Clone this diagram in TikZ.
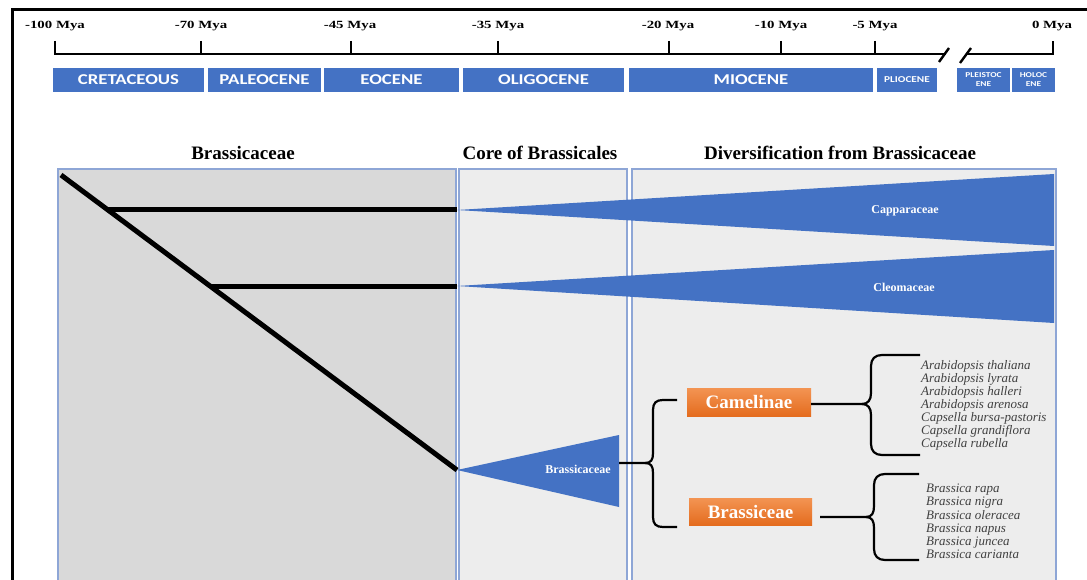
\documentclass[tikz,border=0pt]{standalone}
\usepackage{fontspec}
\setmainfont{Liberation Serif}
\newfontfamily\erafont[FakeStretch=1.25]{Carlito}
\newfontfamily\tlfont[FakeStretch=1.35]{Liberation Serif}
\definecolor{eraBlue}{HTML}{4472C4}
\definecolor{panelEdge}{HTML}{8EA6D6}
\definecolor{darkPanel}{HTML}{D9D9D9}
\definecolor{lightPanel}{HTML}{EDEDED}
\definecolor{tribeTop}{HTML}{F39453}
\definecolor{tribeBot}{HTML}{E46C1E}
\definecolor{speciesGray}{HTML}{404040}
\begin{document}
\begin{tikzpicture}[x=1pt, y=-1pt,
		era/.style={fill=eraBlue, text=white, inner sep=0pt, minimum height=24, font=\erafont\bfseries\fontsize{15}{15}\selectfont},
		smallera/.style={era, align=center, font=\erafont\bfseries\fontsize{7.5}{9}\selectfont},
		tick/.style={line width=2.4pt},
		mya/.style={font=\tlfont\bfseries\fontsize{11}{11}\selectfont, inner sep=0pt},
		header/.style={font=\bfseries\fontsize{19}{19}\selectfont, inner sep=0pt},
		panel/.style={draw=panelEdge, line width=1.2pt},
		stem/.style={line width=5pt},
		clade/.style={fill=eraBlue},
		cladelabel/.style={text=white, font=\bfseries\fontsize{12}{12}\selectfont, inner sep=0pt},
		tribe/.style={top color=tribeTop, bottom color=tribeBot, text=white, inner sep=0pt, font=\bfseries\fontsize{19}{19}\selectfont},
		brace/.style={line width=2.2pt},
		species/.style={text=speciesGray, align=left, inner sep=0pt, anchor=north west, font=\itshape\fontsize{13}{13.1}\selectfont}]
	\useasboundingbox (0, 0) rectangle (1087, 580);
	\fill[white] (0, 0) rectangle (1087, 580);
	\draw[line width=3pt] (12, 580) -- (12, 10) -- (1087, 10);
	% time scale
	\draw[tick] (55, 41) -- (55, 54) -- (946, 54);
	\draw[tick] (967, 54) -- (1053, 54) -- (1053, 41);
	\foreach \x in {201, 351, 498, 669, 781, 875}
		\draw[tick] (\x, 41) -- (\x, 54);
	\draw[tick] (939, 62) -- (949, 48);
	\draw[tick] (960, 63) -- (971, 48);
	\foreach \x/\t [count=\i] in {55/-100, 201/-70, 350/-45, 498/-35, 668/-20, 781/-10, 875/-5, 1052/0}
		\node (mya\i) at (\x, 26)[mya] {\t{} Mya};
	\foreach \a/\b/\t/\n in {53/204/CRETACEOUS/cret, 208/321/PALEOCENE/paleo, 324/459/EOCENE/eoc, 463/624/OLIGOCENE/olig, 629/873/MIOCENE/mioc}
		\node (\n) at ({(\a+\b)/2}, 80)[era, minimum width=\b-\a] {\t};
	\node (plio) at (907, 80)[era, minimum width=60, font=\erafont\bfseries\fontsize{9}{9}\selectfont] {PLIOCENE};
	\node (pleist) at (983.5, 80)[smallera, minimum width=53] {PLEISTOC\\ENE};
	\node (holo) at (1033.5, 80)[smallera, minimum width=43] {HOLOC\\ENE};
	% panels
	\filldraw[panel, fill=darkPanel] (58, 169) rectangle (456, 590);
	\filldraw[panel, fill=lightPanel] (459, 169) rectangle (627, 590);
	\filldraw[panel, fill=lightPanel] (632, 169) rectangle (1056, 590);
	\node (hBrass) at (243, 153)[header] {Brassicaceae};
	\node (hCore) at (540, 153)[header] {Core of Brassicales};
	\node (hDiv) at (840, 153)[header] {Diversification from Brassicaceae};
	% tree
	\coordinate (root) at (61, 175);
	\coordinate (split1) at (108, 210);
	\coordinate (split2) at (210, 286);
	\coordinate (tip) at (457, 470);
	\coordinate (capApex) at (457, 210);
	\coordinate (cleApex) at (457, 286);
	\fill[clade] (capApex) -- (1054, 174) -- (1054, 246) -- cycle;
	\fill[clade] (cleApex) -- (1054, 250) -- (1054, 323) -- cycle;
	\fill[clade] (tip) -- (619, 435) -- (619, 507) -- cycle;
	\draw[stem] (root) -- (tip);
	\draw[stem] (split1) -- (capApex);
	\draw[stem] (split2) -- (cleApex);
	\node (capLab) at (905, 211)[cladelabel] {Capparaceae};
	\node (cleLab) at (904, 287)[cladelabel] {Cleomaceae};
	\node (brLab) at (578, 469)[cladelabel] {Brassicaceae};
	% tribes
	\node (camel) at (749, 402)[tribe, minimum width=124, minimum height=28] {Camelinae};
	\node (brass) at (750.5, 511.5)[tribe, minimum width=123, minimum height=27] {Brassiceae};
	\coordinate (brOut) at (619, 463);
	\coordinate (camIn) at (677, 400);
	\coordinate (brassIn) at (677, 527);
	\draw[brace] (brOut) -- (645, 463) .. controls (651, 463) and (653, 460) .. (653, 453) -- (653, 410) .. controls (653, 403) and (656, 400) .. (663, 400) -- (camIn);
	\draw[brace] (645, 463) .. controls (651, 463) and (653, 466) .. (653, 473) -- (653, 517) .. controls (653, 524) and (656, 527) .. (663, 527) -- (brassIn);
	% species
	\node (camList) at (921, 360)[species] {Arabidopsis thaliana\\Arabidopsis lyrata\\Arabidopsis halleri\\Arabidopsis arenosa\\Capsella bursa-pastoris\\Capsella grandiflora\\Capsella rubella};
	\node (brassList) at (926, 484)[species] {Brassica rapa\\Brassica nigra\\Brassica oleracea\\Brassica napus\\Brassica juncea\\Brassica carianta};
	\coordinate (camTop) at (920, 355);
	\coordinate (camBot) at (920, 455);
	\coordinate (brassOut) at (820, 517);
	\coordinate (brassTop) at (919, 474);
	\coordinate (brassBot) at (919, 560);
	\draw[brace] (camel.east |- 0, 404) -- (862, 404) .. controls (868, 404) and (871, 400) .. (871, 393) -- (871, 366) .. controls (871, 359) and (875, 355) .. (882, 355) -- (camTop);
	\draw[brace] (862, 404) .. controls (868, 404) and (871, 408) .. (871, 415) -- (871, 444) .. controls (871, 451) and (875, 455) .. (882, 455) -- (camBot);
	\draw[brace] (brassOut) -- (866, 517) .. controls (872, 517) and (874, 513) .. (874, 506) -- (874, 485) .. controls (874, 478) and (878, 474) .. (885, 474) -- (brassTop);
	\draw[brace] (866, 517) .. controls (872, 517) and (874, 521) .. (874, 528) -- (874, 549) .. controls (874, 556) and (878, 560) .. (885, 560) -- (brassBot);
\end{tikzpicture}
\end{document}
